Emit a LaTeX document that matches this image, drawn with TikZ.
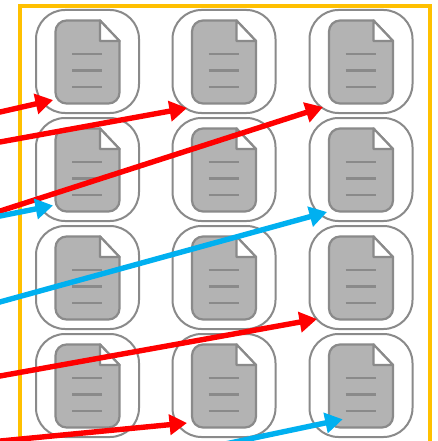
\documentclass[tikz,border=0pt]{standalone}
\usetikzlibrary{arrows.meta}
\definecolor{frameY}{HTML}{FFC000}
\definecolor{docGray}{HTML}{B3B3B3}
\definecolor{lineGray}{HTML}{8A8A8A}
\definecolor{arrRed}{HTML}{FF0000}
\definecolor{arrBlue}{HTML}{00B0F0}
\tikzset{
  tile/.style={draw=lineGray,line width=2pt,fill=white,rounded corners=29pt},
  docbody/.style={draw=lineGray,line width=2.2pt,fill=docGray},
  docfold/.style={draw=lineGray,line width=2.2pt,fill=white,line join=round},
  docline/.style={draw=lineGray,line width=2.2pt},
  flow/.style={line width=5.4pt,-{Triangle[length=17.5pt,width=20pt]}},
  frameline/.style={draw=frameY,line width=4pt}
}
\newcommand{\doctile}[2]{%
  \begin{scope}[shift={(#1,#2)}]
    \draw[tile] (0,0) rectangle (103,103);
    \draw[docbody] (64,10.5) [rounded corners=11pt] -- (19.5,10.5) -- (19.5,93.5) -- (83.5,93.5) [sharp corners] -- (83.5,31) -- cycle;
    \draw[docfold] (64,10.5) -- (83.5,31) -- (64,31) -- cycle;
    \draw[docline] (36,44) -- (66,44);
    \draw[docline] (36,60.5) -- (66,60.5);
    \draw[docline] (36,77) -- (66,77);
  \end{scope}}
\begin{document}
\begin{tikzpicture}[x=1pt,y=-1pt]
\useasboundingbox (0,0) rectangle (437,441);
\clip (0,0) rectangle (437,441);
\fill[white] (0,0) rectangle (437,441);
\draw[frameline] (20,460) -- (20,6.5) -- (429.5,6.5) -- (429.5,460);
\doctile{36}{10}\doctile{172.5}{10}\doctile{309.5}{10}
\doctile{36}{118}\doctile{172.5}{118}\doctile{309.5}{118}
\doctile{36}{226}\doctile{172.5}{226}\doctile{309.5}{226}
\doctile{36}{334}\doctile{172.5}{334}\doctile{309.5}{334}
\coordinate (r1a) at (-10,114.3);
\coordinate (r1b) at (53,100);
\coordinate (r2a) at (-10,143.8);
\coordinate (r2b) at (187,108);
\coordinate (r3a) at (-10,214.3);
\coordinate (r3b) at (323,107);
\coordinate (b1a) at (-10,218);
\coordinate (b1b) at (53,205.5);
\coordinate (b2a) at (-10,304.7);
\coordinate (b2b) at (327,212);
\coordinate (r4a) at (-10,377.8);
\coordinate (r4b) at (317,319);
\coordinate (r5a) at (-10,442);
\coordinate (r5b) at (187,423);
\coordinate (b3a) at (180,453.5);
\coordinate (b3b) at (342.7,419.3);
\draw[flow,arrRed] (r1a) -- (r1b);
\draw[flow,arrRed] (r2a) -- (r2b);
\draw[flow,arrRed] (r3a) -- (r3b);
\draw[flow,arrBlue] (b1a) -- (b1b);
\draw[flow,arrBlue] (b2a) -- (b2b);
\draw[flow,arrRed] (r4a) -- (r4b);
\draw[flow,arrRed] (r5a) -- (r5b);
\draw[flow,arrBlue] (b3a) -- (b3b);
\end{tikzpicture}
\end{document}
